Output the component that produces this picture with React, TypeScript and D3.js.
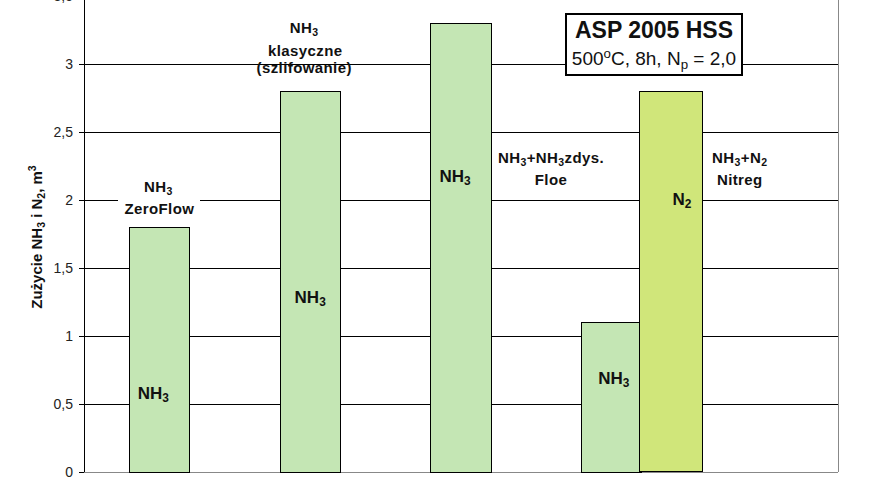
import React from 'react';
import * as d3 from 'd3';

// categories on the x axis (last slot is empty in the original sheet)
const categories = ['ZeroFlow', 'klasyczne', 'Floe', 'Nitreg', ''];
const nh3Values: (number | null)[] = [1.8, 2.8, 3.3, 1.1, null];
const n2Values: (number | null)[] = [null, null, null, 2.8, null];
const yTicks = [0, 0.5, 1, 1.5, 2, 2.5, 3, 3.5];

// labels drawn inside the bars
const barLabels = [
  { cat: 0, series: 'nh3', text: 'NH', sub: '3', y: 0.54, dx: -6 },
  { cat: 1, series: 'nh3', text: 'NH', sub: '3', y: 1.24, dx: 0 },
  { cat: 2, series: 'nh3', text: 'NH', sub: '3', y: 2.13, dx: -6 },
  { cat: 3, series: 'nh3', text: 'NH', sub: '3', y: 0.65, dx: 2 },
  { cat: 3, series: 'n2', text: 'N', sub: '2', y: 1.96, dx: 11 },
];

const W = 872;
const H = 493;
const margin = { left: 84, right: 34, top: -4, bottom: 21 };

const nh3Color = '#c4e6b4';
const n2Color = '#d0e67a';
const font = '"Liberation Sans", Arial, sans-serif';

const fmt = (v: number) => d3.format('~g')(v).replace('.', ',');

const Sub = ({ t }: { t: string }) => (
  <tspan fontSize="0.7em" dy={3}>{t}</tspan>
);

export default function App() {
  const x = d3.scaleBand<string>().domain(categories).range([margin.left, W - margin.right]);
  const y = d3.scaleLinear().domain([0, 3.5]).range([H - margin.bottom, margin.top]);
  const barW = x.step() * 0.4;
  const cx = (i: number) => (x(categories[i]) as number) + x.bandwidth() / 2;
  const y0 = y(0);
  const x0 = margin.left;
  const x1 = W - margin.right;

  const nh3Bars = nh3Values.map((v, i) => (v == null ? null : { i, v, left: cx(i) - barW / 2, w: barW }));
  const n2Bars = n2Values.map((v, i) =>
    v == null ? null : { i, v, left: cx(i) - barW / 2 + barW * 0.96, w: barW * 1.04 }
  );

  const labelX = (l: typeof barLabels[number]) => {
    const b = l.series === 'nh3' ? nh3Bars[l.cat] : n2Bars[l.cat];
    return b ? b.left + b.w / 2 + l.dx : 0;
  };

  const annFont = { fontFamily: font, fontWeight: 700, fontSize: 15, letterSpacing: 0.4, fill: '#111' };

  return (
    <div style={{ position: 'absolute', left: 0, top: 0 }}>
      <svg width={W} height={H} style={{ display: 'block', background: '#fff' }}>
        <g shapeRendering="crispEdges">
          {/* grid lines */}
          {yTicks.filter((t) => t > 0).map((t) => (
            <line key={t} x1={x0} x2={x1} y1={y(t)} y2={y(t)} stroke="#000" strokeWidth={1} />
          ))}
          {/* plot border */}
          <line x1={x1} x2={x1} y1={y(3.5)} y2={y0} stroke="#888" strokeWidth={1} />
          <line x1={x0} x2={x1} y1={y0} y2={y0} stroke="#888" strokeWidth={1} />

          {/* annotation background for ZeroFlow */}
          <rect x={cx(0) - 41} y={y(2.2)} width={82} height={y(1.86) - y(2.2)} fill="#fff" />

          {/* bars */}
          {nh3Bars.map((b) =>
            b ? <rect key={'a' + b.i} x={b.left} y={y(b.v)} width={b.w} height={y0 - y(b.v)} fill={nh3Color} stroke="#000" strokeWidth={1} /> : null
          )}
          {n2Bars.map((b) =>
            b ? <rect key={'b' + b.i} x={b.left} y={y(b.v)} width={b.w} height={y0 - 1 - y(b.v)} fill={n2Color} stroke="#000" strokeWidth={1} /> : null
          )}

          {/* y axis */}
          <line x1={x0} x2={x0} y1={y(3.5)} y2={y0} stroke="#000" strokeWidth={1} />
          {yTicks.map((t) => (
            <line key={t} x1={x0 - 5} x2={x0} y1={y(t)} y2={y(t)} stroke="#000" />
          ))}
        </g>
        {yTicks.map((t) => (
          <text key={t} x={x0 - 11} y={y(t)} dy="0.36em" textAnchor="end" fontFamily={font} fontSize={14} fill="#222">
            {fmt(t)}
          </text>
        ))}
        <text
          transform={`translate(42,${237}) rotate(-90)`}
          textAnchor="middle"
          fontFamily={font}
          fontWeight={700}
          fontSize={15}
          fill="#111"
        >
          Zużycie NH<Sub t="3" />
          <tspan dy={-3}> i N</tspan>
          <Sub t="2" />
          <tspan dy={-3}>, m</tspan>
          <tspan fontSize="0.7em" dy={-6}>3</tspan>
        </text>

        {/* labels inside bars */}
        {barLabels.map((l, k) => (
          <text key={k} x={labelX(l)} y={y(l.y)} textAnchor="middle" fontFamily={font} fontWeight={700} fontSize={17} fill="#111">
            {l.text}
            <Sub t={l.sub} />
          </text>
        ))}

        {/* text annotations */}
        <g {...annFont} textAnchor="middle">
          <text x={cx(0) - 1} y={y(2.06)}>NH<Sub t="3" /></text>
          <text x={cx(0)} y={y(1.897)}>ZeroFlow</text>

          <text x={cx(1) - 6} y={y(3.228)}>NH<Sub t="3" /></text>
          <text x={cx(1) - 5} y={y(3.059)}>klasyczne</text>
          <text x={cx(1) - 6} y={y(2.934)}>(szlifowanie)</text>

          <text x={cx(2) + 90} y={y(2.272)}>
            NH<Sub t="3" /><tspan dy={-3}>+NH</tspan><Sub t="3" /><tspan dy={-3}>zdys.</tspan>
          </text>
          <text x={cx(2) + 90} y={y(2.11)}>Floe</text>

          <text x={cx(3) + 128} y={y(2.272)}>
            NH<Sub t="3" /><tspan dy={-3}>+N</tspan><Sub t="2" />
          </text>
          <text x={cx(3) + 128} y={y(2.11)}>Nitreg</text>
        </g>

        {/* title box */}
        <rect x={566} y={14} width={176} height={61} fill="#fff" stroke="#000" strokeWidth={2} />
        <text x={654} y={38} textAnchor="middle" fontFamily={font} fontWeight={700} fontSize={23} fill="#111">
          ASP 2005 HSS
        </text>
        <text x={654} y={65} textAnchor="middle" fontFamily={font} fontSize={19} fill="#111">
          500<tspan fontSize="0.7em" dy={-7}>o</tspan>
          <tspan dy={7}>C, 8h, N</tspan>
          <tspan fontSize="0.7em" dy={4}>p</tspan>
          <tspan dy={-4}> = 2,0</tspan>
        </text>
      </svg>
    </div>
  );
}
